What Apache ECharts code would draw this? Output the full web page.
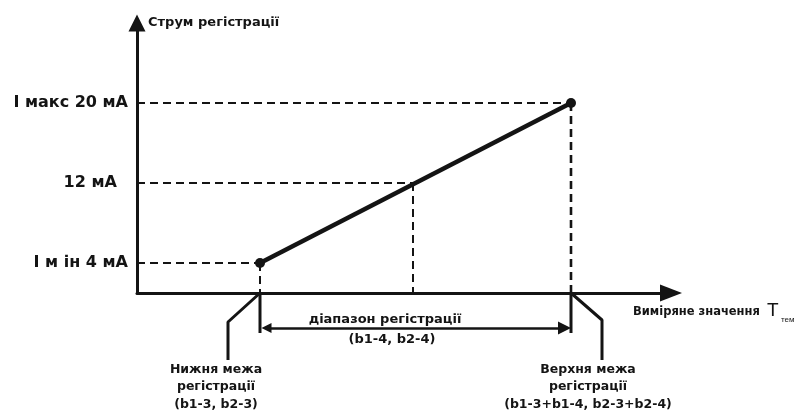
<!DOCTYPE html>
<html>
<head>
<meta charset="utf-8">
<script src="https://cdn.jsdelivr.net/npm/echarts@6/dist/echarts.min.js"></script>
<style>
  html, body { margin: 0; padding: 0; background: #fff; }
  #chart { width: 803px; height: 410px; }
</style>
</head>
<body>
<div id="chart"></div>
<script>
// струм, мА
const currentTicks = [4, 12, 20]
const currentLabels = ['I м ін 4 мА', '12 мА  ', 'I макс 20 мА']

// вимірене значення (умовні одиниці осі)
const xLower = 12.3
const xMid = 27.6
const xUpper = 43.4
const yAxisMin = 1

// характеристика: нижня межа -> верхня межа
const lineX = [xLower, xUpper]
const lineY = [4, 20]

// допоміжні виносні лінії під віссю
const extBottom = -3
const rangeArrowY = -2.5
const arrowInset = 0.65 // половина довжини наконечника
const leaderLower = [[xLower, 1], [9.1, -1.9], [9.1, -5.7]]
const leaderUpper = [[xUpper, 1], [46.5, -1.7], [46.5, -5.7]]

const ink = '#141414'
const font = '"DejaVu Sans", Verdana, sans-serif'
const fontT = '"Liberation Sans", Arial, sans-serif'

const chart = echarts.init(document.getElementById('chart'))

const dashed = (data, width) => ({
  type: 'line',
  data,
  symbol: 'none',
  clip: false,
  silent: true,
  lineStyle: { color: ink, width: width || 2, type: [8, 5] },
  z: 1
})

const solid = (data) => ({
  type: 'line',
  data,
  symbol: 'none',
  clip: false,
  silent: true,
  lineStyle: { color: ink, width: 3 },
  z: 1
})

// підпис по центру (x, y — центр тексту)
const label = (text, x, y, size, extra) => ({
  type: 'text',
  x,
  y,
  style: Object.assign({
    text,
    fill: ink,
    font: 'bold ' + size + 'px ' + font,
    align: 'center',
    verticalAlign: 'middle'
  }, extra || {})
})

const option = {
  backgroundColor: '#fff',
  animation: false,
  grid: { left: 137, top: 23, width: 534, height: 270 },
  xAxis: {
    type: 'value',
    min: 0,
    max: 53.4,
    axisLine: {
      onZero: false,
      symbol: ['none', 'triangle'],
      symbolSize: [17, 22],
      lineStyle: { color: ink, width: 3 }
    },
    axisTick: { show: false },
    axisLabel: { show: false },
    splitLine: { show: false }
  },
  yAxis: {
    type: 'value',
    min: yAxisMin,
    max: 28,
    axisLine: {
      show: true,
      onZero: false,
      symbol: ['none', 'triangle'],
      symbolSize: [17, 17],
      lineStyle: { color: ink, width: 3 }
    },
    axisTick: { show: false },
    splitLine: { show: false },
    axisLabel: {
      customValues: currentTicks,
      margin: 9,
      color: ink,
      fontFamily: font,
      fontWeight: 'bold',
      fontSize: 16,
      formatter: (v) => currentLabels[currentTicks.indexOf(v)]
    }
  },
  series: [
    // горизонтальні пунктири
    dashed([[0, lineY[1]], [xUpper, lineY[1]]]),
    dashed([[0, 12], [xMid, 12]]),
    dashed([[0, lineY[0]], [xLower, lineY[0]]]),
    // вертикальні пунктири
    dashed([[xLower, lineY[0]], [xLower, yAxisMin]]),
    dashed([[xMid, 12], [xMid, yAxisMin]]),
    dashed([[xUpper, lineY[1]], [xUpper, yAxisMin]], 2.6),
    // виносні лінії
    solid([[xLower, yAxisMin], [xLower, extBottom]]),
    solid([[xUpper, yAxisMin], [xUpper, extBottom]]),
    solid(leaderLower),
    solid(leaderUpper),
    // діапазон реєстрації
    {
      type: 'lines',
      coordinateSystem: 'cartesian2d',
      clip: false,
      silent: true,
      symbol: ['triangle', 'triangle'],
      symbolSize: [10, 13],
      lineStyle: { color: ink, width: 2.5, opacity: 1 },
      data: [{ coords: [[xLower + arrowInset, rangeArrowY], [xUpper - arrowInset, rangeArrowY]] }],
      z: 2
    },
    // характеристика
    {
      type: 'line',
      data: lineX.map((x, i) => [x, lineY[i]]),
      symbol: 'circle',
      symbolSize: 10,
      clip: false,
      lineStyle: { color: ink, width: 4.5 },
      itemStyle: { color: ink },
      z: 5
    }
  ],
  graphic: [
    label('Струм регістрації', 148, 23, 13, { align: 'left' }),
    label('Виміряне значення', 633, 312, 11.5, { align: 'left' }),
    label('T', 767, 311, 19, { align: 'left', font: '19px ' + fontT }),
    label('тем', 781, 320, 8, { align: 'left', font: '8px ' + fontT }),
    label('діапазон регістрації', 385, 320, 13),
    label('(b1-4, b2-4)', 392, 340, 13),
    label('Нижня межа\nрегістрації\n(b1-3, b2-3)', 216, 387, 12.5, { lineHeight: 17.5 }),
    label('Верхня межа\nрегістрації\n(b1-3+b1-4, b2-3+b2-4)', 588, 387, 12.5, { lineHeight: 17.5 })
  ]
}

chart.setOption(option)
</script>
</body>
</html>
